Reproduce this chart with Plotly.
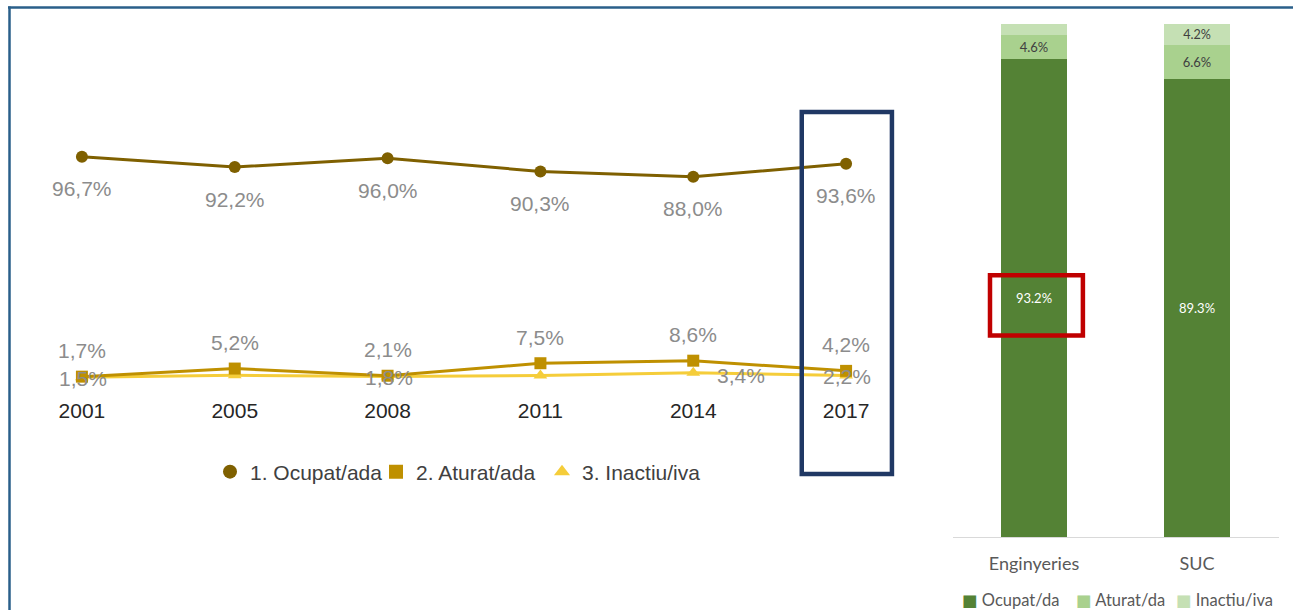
import plotly.graph_objects as go

# ---- Data: line chart ----
years = ["2001", "2005", "2008", "2011", "2014", "2017"]
ocupat = [96.7, 92.2, 96.0, 90.3, 88.0, 93.6]
aturat = [1.7, 5.2, 2.1, 7.5, 8.6, 4.2]
inactiu = [1.5, 2.3, 1.8, 2.2, 3.4, 2.2]
ocupat_lbl = ["96,7%", "92,2%", "96,0%", "90,3%", "88,0%", "93,6%"]
aturat_lbl = ["1,7%", "5,2%", "2,1%", "7,5%", "8,6%", "4,2%"]
inactiu_lbl = ["1,5%", "", "1,8%", "", "3,4%", "2,2%"]
line_names = ["1. Ocupat/ada", "2. Aturat/ada", "3. Inactiu/iva"]

# ---- Data: bar chart ----
groups = ["Enginyeries", "SUC"]
bar_ocupat = [93.2, 89.3]
bar_aturat = [4.6, 6.6]
bar_inactiu = [2.2, 4.2]
bar_ocupat_lbl = ["93.2%", "89.3%"]
bar_aturat_lbl = ["4.6%", "6.6%"]
bar_inactiu_lbl = ["", "4.2%"]
bar_names = ["Ocupat/da", "Aturat/da", "Inactiu/iva"]
bar_colors = ["#548235", "#A9D18E", "#C5E0B4"]

W, H = 1293, 610
def px(x): return x / W
def py(y): return 1 - y / H

C_OC, C_AT, C_IN = "#7F6000", "#BF9000", "#F5CD3A"
LFONT = "Liberation Sans, Arial, sans-serif"
BFONT = "Lato, DejaVu Sans, sans-serif"

fig = go.Figure()

series = [(ocupat, C_OC, "circle", line_names[0]),
          (aturat, C_AT, "square", line_names[1]),
          (inactiu, C_IN, "triangle-up", line_names[2])]
for vals, col, sym, name in [series[2], series[1], series[0]]:
    fig.add_trace(go.Scatter(x=years, y=vals, mode="lines+markers",
                             line=dict(color=col, width=3),
                             marker=dict(symbol=sym, size=12, color=col),
                             showlegend=False, xaxis="x", yaxis="y",
                             cliponaxis=False, hoverinfo="skip"))
for vals, col, sym, name in series:
    fig.add_trace(go.Scatter(x=[None], y=[None], mode="markers", name=name,
                             marker=dict(symbol=sym, size=14, color=col),
                             legend="legend", xaxis="x", yaxis="y"))

# labels for line chart (x given as category index)
lbl_col = "#8C8C8C"
lbl_font = dict(size=21, color=lbl_col, family=LFONT)
for i, (v, l) in enumerate(zip(ocupat, ocupat_lbl)):
    fig.add_annotation(x=i, y=v, text=l, showarrow=False, yshift=-32,
                       font=lbl_font, xref="x", yref="y")
for i, (v, l) in enumerate(zip(aturat, aturat_lbl)):
    fig.add_annotation(x=i, y=v, text=l, showarrow=False, yshift=26,
                       font=lbl_font, xref="x", yref="y")
for i, (v, l) in enumerate(zip(inactiu, inactiu_lbl)):
    if l:
        dx = 48 if i == 4 else 1
        dy = -3 if i == 4 else -1
        fig.add_annotation(x=i, y=v, text=l, showarrow=False, xshift=dx, yshift=dy,
                           font=lbl_font, xref="x", yref="y")

# bar chart
text_cols = ["white", "#404040", "#404040"]
for vals, lbls, col, tcol, name in zip([bar_ocupat, bar_aturat, bar_inactiu],
                                       [bar_ocupat_lbl, bar_aturat_lbl, bar_inactiu_lbl],
                                       bar_colors, text_cols, bar_names):
    fig.add_trace(go.Bar(x=groups, y=vals, name=name, text=lbls, textposition="inside",
                         insidetextanchor="middle",
                         textfont=dict(size=13, color=tcol, family=BFONT),
                         marker=dict(color=col, line=dict(width=0)),
                         xaxis="x2", yaxis="y2", showlegend=False, hoverinfo="skip"))

# compact legend for the bar chart
legend2_x = [960, 1074, 1174]
for lx, col, name in zip(legend2_x, bar_colors, bar_names):
    fig.add_annotation(xref="paper", yref="paper", x=px(lx), y=py(600), xanchor="left",
                       yanchor="middle", showarrow=False,
                       text=f'<span style="color:{col}">■</span> {name}',
                       font=dict(size=16.5, color="#595959", family=BFONT))

# frame lines
fig.add_shape(type="line", xref="paper", yref="paper", x0=px(8), x1=px(1293), y0=py(7.5), y1=py(7.5),
              line=dict(color="#2A5F8A", width=2.5))
fig.add_shape(type="line", xref="paper", yref="paper", x0=px(9.5), x1=px(9.5), y0=py(6.5), y1=py(611),
              line=dict(color="#2A5F8A", width=2.5))
# highlight box around 2017
fig.add_shape(type="rect", xref="x", yref="paper", x0=4.71, x1=5.3, y0=py(474), y1=py(112),
              line=dict(color="#203864", width=4.5), fillcolor="rgba(0,0,0,0)")
# highlight box around Enginyeries label
fig.add_shape(type="rect", xref="x2", yref="y2", x0=-0.27, x1=0.3, y0=39.3, y1=51.0,
              line=dict(color="#C00000", width=4.5), fillcolor="rgba(0,0,0,0)")

zero_px, upx = 380.6, 2.316
ybot, ytop = 396, 140
fig.update_layout(
    width=W, height=H, margin=dict(l=0, r=0, t=0, b=0, autoexpand=False),
    plot_bgcolor="white", paper_bgcolor="white",
    barmode="stack", bargap=0.595,
    xaxis=dict(domain=[px(5.5), px(922.5)], type="category", range=[-0.5, 5.5],
               showgrid=False, zeroline=False, showline=False, ticks="",
               tickfont=dict(size=21, color="#262626", family=LFONT)),
    yaxis=dict(domain=[py(ybot), py(ytop)],
               range=[-(ybot - zero_px) / upx, (zero_px - ytop) / upx],
               visible=False),
    xaxis2=dict(domain=[px(952.5), px(1278.5)], type="category", range=[-0.5, 1.5],
                showgrid=False, zeroline=False, showline=True, linecolor="#D9D9D9", linewidth=1,
                ticks="", ticklabelstandoff=10,
                tickfont=dict(size=18, color="#595959", family=BFONT), anchor="y2"),
    yaxis2=dict(domain=[py(537), py(24)], range=[0, 100], visible=False, anchor="x2"),
    legend=dict(orientation="h", x=px(459), xanchor="center", y=py(472), yanchor="middle",
                font=dict(size=21, color="#404040", family=LFONT), itemwidth=30,
                entrywidth=121,
                bgcolor="rgba(0,0,0,0)", traceorder="normal"),
    showlegend=True,
)

fig.write_html("out.html", config={"displayModeBar": False},
               post_script="document.body.style.margin='0';document.body.style.overflow='hidden';")
